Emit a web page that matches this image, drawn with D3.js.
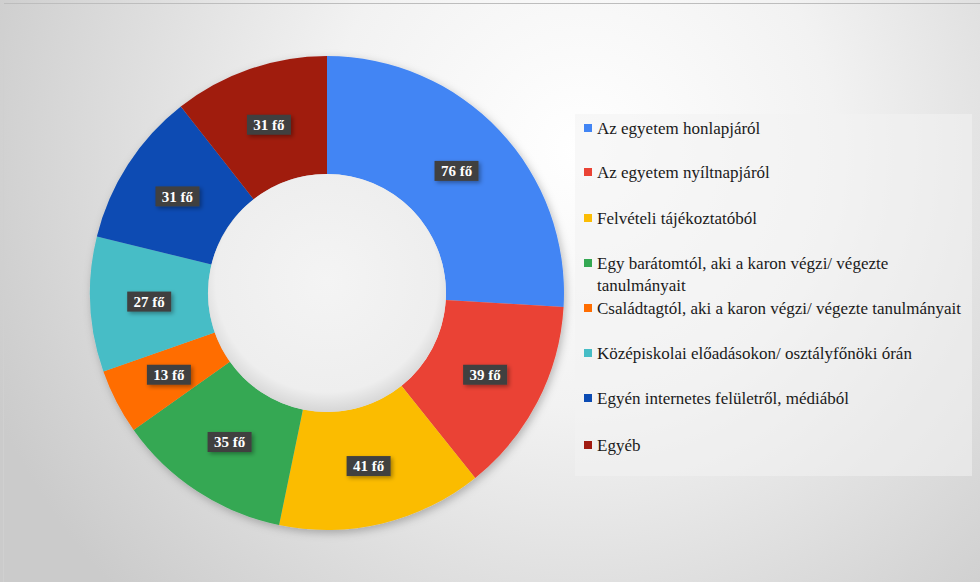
<!DOCTYPE html>
<html>
<head>
<meta charset="utf-8">
<script src="https://cdn.jsdelivr.net/npm/d3@7"></script>
<style>
  html, body { margin: 0; padding: 0; background: #fff; }
  svg { display: block; }
  svg text { font-family: "Liberation Serif", "Times New Roman", Tinos, "DejaVu Serif", serif; }
</style>
</head>
<body>
<div id="content"></div>
<script>
// data
const categories = [
    "Az egyetem honlapjáról",
    "Az egyetem nyíltnapjáról",
    "Felvételi tájékoztatóból",
    "Egy barátomtól, aki a karon végzi/ végezte tanulmányait",
    "Családtagtól, aki a karon végzi/ végezte tanulmányait",
    "Középiskolai előadásokon/ osztályfőnöki órán",
    "Egyén internetes felületről, médiából",
    "Egyéb"
];
const values = [76, 39, 41, 35, 13, 27, 31, 31];
const colors = ["#4285f4", "#ea4335", "#fbbc04", "#34a853", "#ff6d01", "#46bdc6", "#0b4bb3", "#a01b11"];
// legend lines (the long 4th entry wraps in the original)
const legendLines = [
    ["Az egyetem honlapjáról"],
    ["Az egyetem nyíltnapjáról"],
    ["Felvételi tájékoztatóból"],
    ["Egy barátomtól, aki a karon végzi/ végezte", "tanulmányait"],
    ["Családtagtól, aki a karon végzi/ végezte tanulmányait"],
    ["Középiskolai előadásokon/ osztályfőnöki órán"],
    ["Egyén internetes felületről, médiából"],
    ["Egyéb"]
];

const width = 980, height = 582;
const cx = 327, cy = 293, outerR = 237, innerR = 119;
const serif = "'Liberation Serif', 'Times New Roman', Tinos, 'DejaVu Serif', serif";

const svg = d3.select("#content")
    .append("svg")
    .attr("width", width)
    .attr("height", height);

const defs = svg.append("defs");

const bg = defs.append("radialGradient")
    .attr("id", "bg-grad")
    .attr("gradientUnits", "userSpaceOnUse")
    .attr("cx", 580).attr("cy", 150).attr("r", 640);
bg.append("stop").attr("offset", "0%").attr("stop-color", "#ffffff");
bg.append("stop").attr("offset", "40%").attr("stop-color", "#f2f2f2");
bg.append("stop").attr("offset", "100%").attr("stop-color", "#cbcbcb");

const hole = defs.append("radialGradient")
    .attr("id", "hole-grad")
    .attr("cx", "50%").attr("cy", "45%").attr("r", "55%");
hole.append("stop").attr("offset", "0%").attr("stop-color", "#f4f4f4");
hole.append("stop").attr("offset", "85%").attr("stop-color", "#eeeeee");
hole.append("stop").attr("offset", "100%").attr("stop-color", "#d6d6d6");

const shadow = defs.append("filter")
    .attr("id", "shadow")
    .attr("x", "-20%").attr("y", "-20%").attr("width", "150%").attr("height", "150%");
shadow.append("feDropShadow")
    .attr("dx", 2).attr("dy", 2).attr("stdDeviation", 2)
    .attr("flood-color", "#000").attr("flood-opacity", 0.35);

const softShadow = defs.append("filter")
    .attr("id", "soft-shadow")
    .attr("x", "-10%").attr("y", "-10%").attr("width", "125%").attr("height", "125%");
softShadow.append("feDropShadow")
    .attr("dx", 2).attr("dy", 3).attr("stdDeviation", 4)
    .attr("flood-color", "#000").attr("flood-opacity", 0.25);

// background with thin frame
svg.append("rect")
    .attr("x", 0).attr("y", 0)
    .attr("width", width).attr("height", height)
    .attr("fill", "url(#bg-grad)");
svg.append("line")
    .attr("x1", 3).attr("x2", width).attr("y1", 3.5).attr("y2", 3.5)
    .attr("stroke", "#bdbdbd").attr("stroke-width", 1);
svg.append("line")
    .attr("x1", 3.5).attr("x2", 3.5).attr("y1", 3).attr("y2", height)
    .attr("stroke", "#d0d0d0").attr("stroke-width", 1);

// donut
const pie = d3.pie().sort(null).value(d => d)(values);
const arc = d3.arc().innerRadius(innerR).outerRadius(outerR);
const labelArc = d3.arc().innerRadius((innerR + outerR) / 2).outerRadius((innerR + outerR) / 2);

const g = svg.append("g")
    .attr("transform", `translate(${cx}, ${cy})`);

g.append("g")
    .attr("filter", "url(#soft-shadow)")
    .selectAll("path")
    .data(pie)
    .enter()
    .append("path")
    .attr("d", arc)
    .attr("fill", (d, i) => colors[i]);

g.append("circle")
    .attr("r", innerR)
    .attr("fill", "url(#hole-grad)");

// data labels
const labels = g.append("g")
    .selectAll("g")
    .data(pie)
    .enter()
    .append("g")
    .attr("transform", d => `translate(${labelArc.centroid(d)})`);

labels.append("rect")
    .attr("x", -22).attr("y", -10)
    .attr("width", 44).attr("height", 20)
    .attr("fill", "#404040")
    .attr("filter", "url(#shadow)");

labels.append("text")
    .text(d => `${d.data} fő`)
    .attr("text-anchor", "middle")
    .attr("dy", "0.36em")
    .attr("font-family", serif)
    .attr("font-weight", "bold")
    .attr("font-size", 15)
    .attr("fill", "#ffffff");

// legend
const legend = svg.append("g");
legend.append("rect")
    .attr("x", 575).attr("y", 114)
    .attr("width", 397).attr("height", 362)
    .attr("fill", "#f2f2f2")
    .attr("fill-opacity", 0.55);

const rowY = [128, 172, 218, 263, 308, 353, 398, 445];

const items = legend.selectAll("g.item")
    .data(categories)
    .enter()
    .append("g")
    .classed("item", true)
    .attr("transform", (d, i) => `translate(584, ${rowY[i]})`);

items.append("rect")
    .attr("x", 0).attr("y", -4)
    .attr("width", 8).attr("height", 8)
    .attr("fill", (d, i) => colors[i]);

items.append("text")
    .attr("x", 13)
    .attr("font-family", serif)
    .attr("font-size", 17)
    .attr("fill", "#1a1a1a")
    .selectAll("tspan")
    .data((d, i) => legendLines[i])
    .enter()
    .append("tspan")
    .attr("x", 13)
    .attr("dy", (d, j) => j === 0 ? "0.33em" : "1.3em")
    .text(d => d);
</script>
</body>
</html>
